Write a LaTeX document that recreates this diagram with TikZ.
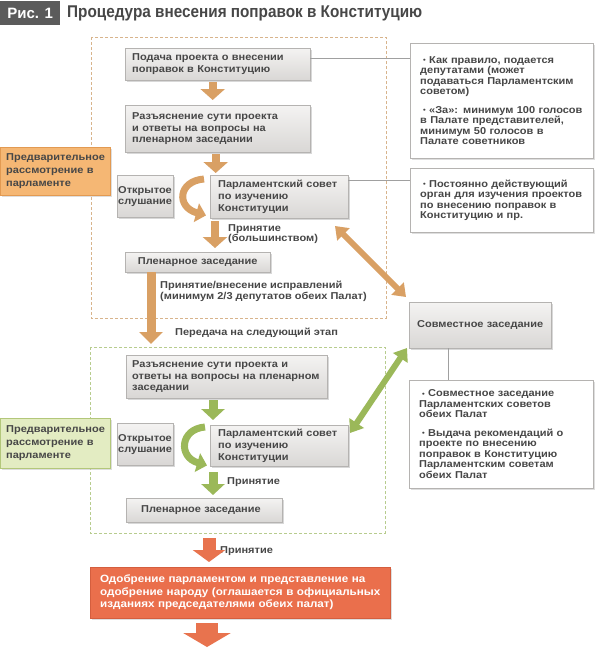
\documentclass[tikz,border=0pt]{standalone}
\usepackage{fontspec}
\setmainfont{Liberation Sans}[FakeStretch=1.1]
\newfontfamily\titlefont{Liberation Sans}
\usetikzlibrary{arrows.meta,shadows}
\definecolor{txt}{HTML}{474747}
\definecolor{gborder}{HTML}{B5B3B1}
\definecolor{gtop}{HTML}{F4F3F2}
\definecolor{gbot}{HTML}{D9D7D5}
\definecolor{tanA}{HTML}{D9A064}
\definecolor{tanDash}{HTML}{D8B48C}
\definecolor{oFill}{HTML}{F5B774}
\definecolor{oBorder}{HTML}{E29A52}
\definecolor{grA}{HTML}{9BB859}
\definecolor{grDash}{HTML}{B7CC8E}
\definecolor{grFill}{HTML}{E3ECC2}
\definecolor{grBorder}{HTML}{B3C77A}
\definecolor{redFill}{HTML}{EA6F4C}
\definecolor{redBorder}{HTML}{D45E3E}
\definecolor{redA}{HTML}{E8734E}
\definecolor{lineGray}{HTML}{A0A0A0}
\definecolor{titleBox}{HTML}{5B5B5B}
\newcommand{\mybul}{\raisebox{0.6pt}{\scalebox{0.7}{•}}}
\tikzset{
  x=1pt,y=1pt,
  basebox/.style={anchor=north west, align=left, text=txt,
    font=\bfseries\fontsize{10}{11.7}\selectfont, inner ysep=2pt},
  gbox/.style={basebox, draw=gborder, top color=gtop, bottom color=gbot,
    drop shadow={shadow xshift=1.5pt, shadow yshift=-1.5pt, fill=black!30}},
  notebox/.style={basebox, draw=gborder, fill=white, inner xsep=10pt,
    font=\bfseries\fontsize{10}{10.5}\selectfont,
    drop shadow={shadow xshift=1.5pt, shadow yshift=-1.5pt, fill=black!25}},
  olabel/.style={basebox, draw=oBorder, fill=oFill, inner xsep=6pt,
    font=\bfseries\fontsize{10}{13}\selectfont,
    drop shadow={shadow xshift=1.5pt, shadow yshift=-1.5pt, fill=black!25}},
  glabel/.style={basebox, draw=grBorder, fill=grFill, inner xsep=6pt,
    font=\bfseries\fontsize{10}{13}\selectfont,
    drop shadow={shadow xshift=1.5pt, shadow yshift=-1.5pt, fill=black!25}},
  plain/.style={text=txt, font=\bfseries\fontsize{10}{10.8}\selectfont, inner sep=0pt, align=left},
  tarrow/.style={draw=tanA, line width=8pt, -{Triangle[width=24pt,length=11pt]}},
  garrow/.style={draw=grA, line width=9pt, -{Triangle[width=23pt,length=11pt]}},
  tcurve/.style={draw=tanA, line width=7pt, -{Triangle[width=19pt,length=10pt]}},
  gcurve/.style={draw=grA, line width=7pt, -{Triangle[width=19pt,length=10pt]}},
  tdouble/.style={draw=tanA, line width=6pt, {Triangle[width=17pt,length=12pt]}-{Triangle[width=17pt,length=12pt]}},
  gdouble/.style={draw=grA, line width=6pt, {Triangle[width=17pt,length=12pt]}-{Triangle[width=17pt,length=12pt]}},
  conn/.style={draw=lineGray, line width=0.8pt},
}
\begin{document}
\begin{tikzpicture}
\useasboundingbox (0,0) rectangle (600,-654);
\fill[white] (0,0) rectangle (600,-654);

% title
\node[fill=titleBox, text=white, font=\titlefont\bfseries\fontsize{15}{15}\selectfont, anchor=north west,
  minimum width=60, minimum height=24, inner sep=0pt] (fig) at (0,-1) {Рис. 1};
\node[anchor=west, text=txt, font=\titlefont\bfseries\fontsize{17}{17}\selectfont, inner sep=0pt]
  (title) at (67,-13) {\scalebox{0.9}[1]{Процедура внесения поправок в Конституцию}};

% dashed frames
\draw[tanDash, line width=1pt, dash pattern=on 3pt off 2pt] (91,-37) rectangle (386,-318);
\draw[grDash, line width=1pt, dash pattern=on 3pt off 2pt] (90,-347) rectangle (385,-533);

% ---- upper stage
\node[gbox, minimum width=185, minimum height=32, text width=171, inner xsep=7pt] (b1) at (125,-48)
  {Подача проекта о внесении\\поправок в Конституцию};
\node[gbox, minimum width=185, minimum height=47, text width=171, inner xsep=7pt] (b2) at (125,-105)
  {Разъяснение сути проекта\\и ответы на вопросы на\\пленарном заседании};
\node[gbox, minimum width=56, minimum height=42, text width=54, inner xsep=1pt,
  font=\bfseries\fontsize{10}{11}\selectfont] (os1) at (117,-175) {Открытое\\слушание};
\node[gbox, minimum width=138, minimum height=43, text width=122, inner xsep=8pt] (c1) at (210,-175)
  {Парламентский совет\\по изучению\\Конституции};
\node[gbox, minimum width=145, minimum height=20, text width=127, inner xsep=9pt, align=center] (p1) at (125,-252)
  {Пленарное заседание};

\node[olabel, minimum width=110, minimum height=48, text width=98] (lab1) at (0,-147)
  {Предварительное\\рассмотрение в\\парламенте};

% notes
\node[notebox, minimum width=183, minimum height=115, text width=163] (n1) at (410,-43)
  {\hspace*{3pt}\mybul\ Как правило, подается\\депутатами (может\\подаваться Парламентским\\советом)\\[8pt]
   \hspace*{3pt}\mybul\ «За»: минимум 100 голосов\\в Палате представителей,\\минимум 50 голосов в\\Палате советников};
\node[notebox, minimum width=183, minimum height=64, text width=163] (n2) at (410,-168)
  {\hspace*{3pt}\mybul\ Постоянно действующий\\орган для изучения проектов\\по внесению поправок в\\Конституцию и пр.};
\node[gbox, minimum width=142, minimum height=46, text width=130, inner xsep=6pt] (joint) at (409,-302)
  {\hspace*{2pt}Совместное заседание};
\node[notebox, minimum width=184, minimum height=108, text width=164] (n3) at (409,-380)
  {\hspace*{3pt}\mybul\ Совместное заседание\\Парламентских советов\\обеих Палат\\[8pt]
   \hspace*{3pt}\mybul\ Выдача рекомендаций о\\проекте по внесению\\поправок в Конституцию\\Парламентским советам\\обеих Палат};

% ---- lower stage
\node[gbox, minimum width=201, minimum height=43, text width=189, inner xsep=6pt] (g2) at (126,-355)
  {Разъяснение сути проекта и\\ответы на вопросы на пленарном\\заседании};
\node[gbox, minimum width=56, minimum height=42, text width=54, inner xsep=1pt,
  font=\bfseries\fontsize{10}{11}\selectfont] (os2) at (117,-423) {Открытое\\слушание};
\node[gbox, minimum width=138, minimum height=41, text width=122, inner xsep=8pt] (c2) at (210,-425)
  {Парламентский совет\\по изучению\\Конституции};
\node[gbox, minimum width=156, minimum height=24, text width=126, inner xsep=15pt] (p2) at (126,-498)
  {Пленарное заседание};
\node[glabel, minimum width=110, minimum height=50, text width=98] (lab2) at (0,-418)
  {Предварительное\\рассмотрение в\\парламенте};

\node[basebox, draw=redBorder, fill=redFill, text=white, minimum width=300, minimum height=51,
  text width=292, inner xsep=4pt, font=\bfseries\fontsize{10.6}{12.5}\selectfont,
  drop shadow={shadow xshift=1.5pt, shadow yshift=-1.5pt, fill=black!25}] (red) at (90,-567)
  {\hspace*{6pt}Одобрение парламентом и представление на\\\hspace*{6pt}одобрение народу (оглашается в официальных\\\hspace*{6pt}изданиях председателями обеих палат)};

% text labels
\node[plain, anchor=north west] (t1) at (228,-224) {Принятие\\(большинством)};
\node[plain, anchor=north west] (t2) at (160,-281) {Принятие/внесение исправлений\\(минимум 2/3 депутатов обеих Палат)};
\node[plain, anchor=west] (t3) at (175,-333) {Передача на следующий этап};
\node[plain, anchor=west] (t4) at (227,-482) {Принятие};
\node[plain, anchor=west] (t5) at (220,-551) {Принятие};

% coordinates
\coordinate (passtip) at (151,-344);
\coordinate (d1a) at (335,-226);
\coordinate (d1b) at (406,-297);
\coordinate (d2a) at (350,-433);
\coordinate (d2b) at (407,-348);
\coordinate (ra) at (209,-538);
\coordinate (rb) at (207,-647);

% connectors
\draw[conn] ([yshift=6pt]b1.east) -- ([yshift=6pt]b1.east -| n1.west);
\draw[conn] ([yshift=-5pt]c1.north east) -- ([yshift=-5pt]c1.north east -| n2.west);
\draw[conn] ([xshift=39pt]joint.south west) -- ([xshift=39pt]joint.south west |- n3.north);

% tan arrows
\draw[tarrow] ([xshift=-5pt,yshift=-2pt]b1.south) -- ([xshift=-5pt,yshift=5pt]b2.north);
\draw[tarrow] ([xshift=-2pt,yshift=-2pt]b2.south) -- ([xshift=-2pt,yshift=2pt]b2.south |- c1.north);
\draw[tarrow] ([xshift=5pt,yshift=-3pt]c1.south west) -- ([xshift=5pt,yshift=4pt]c1.south west |- p1.north);
\draw[tarrow, line width=9pt, -{Triangle[width=23pt,length=12pt]}] (p1.south -| passtip) -- (passtip);
\draw[tcurve] ([xshift=-6pt,yshift=-4pt]c1.north west) .. controls (178,-181) and (176,-207) .. ([xshift=-4pt,yshift=3pt]c1.south west);
\draw[tdouble] (d1a) -- (d1b);

% green arrows
\draw[garrow] ([xshift=3pt,yshift=-2pt]g2.south west -| c2.west) -- ([xshift=3pt,yshift=5pt]c2.north west);
\draw[garrow] ([xshift=3pt,yshift=-6pt]c2.south west) -- ([xshift=3pt,yshift=3pt]c2.south west |- p2.north);
\draw[gcurve] ([xshift=-5pt,yshift=-2pt]c2.north west) .. controls (180,-429) and (178,-457) .. ([xshift=-3pt,yshift=1pt]c2.south west);
\draw[gdouble] (d2a) -- (d2b);

% red arrows
\draw[draw=redA, line width=13pt, -{Triangle[width=32pt,length=12pt]}] (ra) -- ([yshift=5pt]ra |- red.north);
\draw[draw=redA, line width=22pt, -{Triangle[width=47pt,length=14pt]}] ([yshift=-5pt]red.south -| rb) -- (rb);
\end{tikzpicture}
\end{document}
